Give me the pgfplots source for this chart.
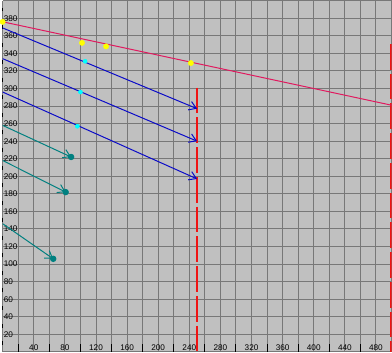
\documentclass[border=0pt]{standalone}
\usepackage{fontspec}
\setmainfont{Liberation Sans}
\usepackage{pgfplots}
\pgfplotsset{compat=1.18}
\usetikzlibrary{arrows.meta}
\definecolor{bgc}{RGB}{192,192,192}
\definecolor{gridc}{RGB}{120,120,120}
\definecolor{pinkline}{RGB}{225,25,95}
\definecolor{blueline}{RGB}{10,10,200}
\definecolor{tealline}{RGB}{0,128,128}
\definecolor{reddash}{RGB}{240,20,20}
\definecolor{dotyellow}{RGB}{255,255,0}
\definecolor{dotcyan}{RGB}{0,255,255}
\begin{document}
\begin{tikzpicture}
\begin{axis}[
  scale only axis, width=392bp, height=354bp,
  xmin=0, xmax=500, ymin=0, ymax=400,
  axis background/.style={fill=bgc},
  axis x line*=bottom, axis y line*=left,
  x axis line style={draw=none},
  y axis line style={draw=black, line width=1.5bp, dash pattern=on 4bp off 13.7bp, dash phase=10.85bp},
  tick align=inside,
  xtick={40,80,...,480}, ytick={20,40,...,380},
  minor xtick={0,20,...,500}, minor ytick={0,20,...,400},
  grid=both,
  major grid style={gridc, line width=1bp},
  minor grid style={gridc, line width=1bp},
  major tick length=0pt, minor tick length=0pt,
  extra x ticks={20,60,...,460},
  extra x tick labels={},
  extra x tick style={grid=none, major tick length=8bp, tick style={black, line width=1bp}},
  /pgf/number format/assume math mode=true,
  ticklabel style={font=\fontsize{8.3}{10}\selectfont},
  xticklabel style={anchor=south, inner sep=1bp},
  yticklabel style={anchor=west, inner sep=1bp},
  clip=true,
]
\addplot[draw=reddash, line width=1.6bp, dash pattern=on 26bp off 4bp] coordinates {(250,301) (250,0)};
\addplot[draw=reddash, line width=1.6bp, dash pattern=on 26bp off 4bp] coordinates {(499,351) (499,0)};
\addplot[draw=pinkline, line width=1bp] coordinates {(0,376) (500,281)};
\addplot[draw=blueline, line width=1bp, -{Straight Barb[length=7bp, width=9bp]}] coordinates {(0,369) (250,277)};
\addplot[draw=blueline, line width=1bp, -{Straight Barb[length=7bp, width=9bp]}] coordinates {(0,334) (250,240)};
\addplot[draw=blueline, line width=1bp, -{Straight Barb[length=7bp, width=9bp]}] coordinates {(0,296) (250,197)};
\addplot[color=tealline, line width=1bp, -{Straight Barb[length=7bp, width=9bp]}, mark=*, mark indices={2}, mark size=2.7bp, mark options={solid, draw=tealline, fill=tealline}] coordinates {(0,258) (88,222)};
\addplot[color=tealline, line width=1bp, -{Straight Barb[length=7bp, width=9bp]}, mark=*, mark indices={2}, mark size=2.7bp, mark options={solid, draw=tealline, fill=tealline}] coordinates {(0,218) (81,182)};
\addplot[color=tealline, line width=1bp, -{Straight Barb[length=7bp, width=9bp]}, mark=*, mark indices={2}, mark size=2.7bp, mark options={solid, draw=tealline, fill=tealline}] coordinates {(0,146) (65,106)};
\addplot[color=dotcyan, only marks, mark=*, mark size=2.1bp, mark options={draw=dotcyan, fill=dotcyan}] coordinates {(106,331) (100,296) (96,257)};
\addplot[color=dotyellow, only marks, mark=*, mark size=2.7bp, mark options={draw=dotyellow, fill=dotyellow}] coordinates {(0,376) (102,352) (133,348) (242,329)};
\end{axis}
\end{tikzpicture}
\end{document}
